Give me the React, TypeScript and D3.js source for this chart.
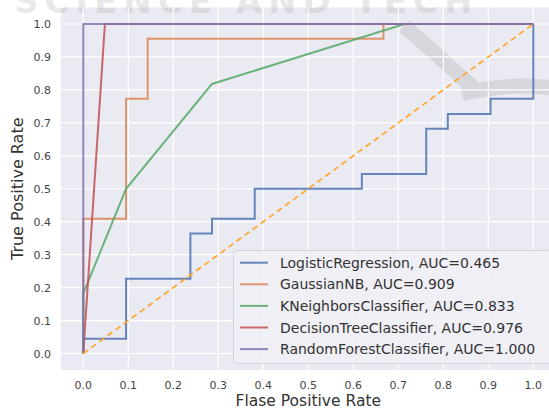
import React, { useEffect, useRef } from 'react';
import * as d3 from 'd3';

const models = [
  'LogisticRegression, AUC=0.465',
  'GaussianNB, AUC=0.909',
  'KNeighborsClassifier, AUC=0.833',
  'DecisionTreeClassifier, AUC=0.976',
  'RandomForestClassifier, AUC=1.000',
];
const colors = ['#4C72B0', '#DD8452', '#55A868', '#C44E52', '#8172B3'];

const lrFpr = [0, 0, 0.095, 0.095, 0.238, 0.238, 0.286, 0.286, 0.381, 0.381, 0.619, 0.619, 0.762, 0.762, 0.81, 0.81, 0.905, 0.905, 1, 1];
const lrTpr = [0, 0.045, 0.045, 0.227, 0.227, 0.364, 0.364, 0.409, 0.409, 0.5, 0.5, 0.545, 0.545, 0.682, 0.682, 0.727, 0.727, 0.773, 0.773, 1];
const nbFpr = [0, 0, 0.095, 0.095, 0.143, 0.143, 0.667, 0.667, 1];
const nbTpr = [0, 0.409, 0.409, 0.773, 0.773, 0.955, 0.955, 1, 1];
const knnFpr = [0, 0, 0.095, 0.286, 0.714, 1];
const knnTpr = [0, 0.182, 0.5, 0.818, 1, 1];
const dtFpr = [0, 0.048, 1];
const dtTpr = [0, 1, 1];
const rfFpr = [0, 0, 1];
const rfTpr = [0, 1, 1];

const ticks = [0, 0.1, 0.2, 0.3, 0.4, 0.5, 0.6, 0.7, 0.8, 0.9, 1.0];

const App = () => {
  const ref = useRef<SVGSVGElement>(null);

  useEffect(() => {
    const svg = d3.select(ref.current);
    svg.selectAll('*').remove();

    const width = 549;
    const height = 409;
    const font = 'DejaVu Sans, sans-serif';

    const x = d3.scaleLinear().domain([-0.05, 1.05]).range([60.8, 555.8]);
    const y = d3.scaleLinear().domain([-0.05, 1.05]).range([370, 7.5]);

    svg.append('rect').attr('width', width).attr('height', height).attr('fill', '#ffffff');

    // plot background
    svg.append('rect')
      .attr('x', x(-0.05))
      .attr('y', y(1.05))
      .attr('width', x(1.05) - x(-0.05))
      .attr('height', y(-0.05) - y(1.05))
      .attr('fill', '#EAEAF2');

    // faint watermark from the source image
    const wm = svg.append('g');
    wm.append('text')
      .attr('x', 14)
      .attr('y', 13)
      .attr('font-family', font)
      .attr('font-weight', 'bold')
      .attr('font-size', 34)
      .attr('fill', '#9a9a9a')
      .attr('fill-opacity', 0.22)
      .attr('letter-spacing', 6)
      .text('SCIENCE AND TECH');
    wm.append('path')
      .attr('d', 'M404,26 C430,48 455,72 474,88 M462,94 C495,86 525,84 552,88')
      .attr('fill', 'none')
      .attr('stroke', '#a8a8a8')
      .attr('stroke-width', 15)
      .attr('stroke-opacity', 0.3);

    // grid
    const grid = svg.append('g');
    ticks.forEach(t => {
      grid.append('line')
        .attr('x1', x(t)).attr('x2', x(t))
        .attr('y1', y(-0.05)).attr('y2', y(1.05))
        .attr('stroke', '#ffffff').attr('stroke-width', 1.2);
      grid.append('line')
        .attr('x1', x(-0.05)).attr('x2', x(1.05))
        .attr('y1', y(t)).attr('y2', y(t))
        .attr('stroke', '#ffffff').attr('stroke-width', 1.2);
    });

    // tick labels
    ticks.forEach(t => {
      svg.append('text')
        .attr('x', x(t))
        .attr('y', 389)
        .attr('text-anchor', 'middle')
        .attr('font-family', font)
        .attr('font-size', 11)
        .attr('fill', '#444444')
        .text(t.toFixed(1));
      svg.append('text')
        .attr('x', 51)
        .attr('y', y(t) + 4)
        .attr('text-anchor', 'end')
        .attr('font-family', font)
        .attr('font-size', 11)
        .attr('fill', '#444444')
        .text(t.toFixed(1));
    });

    // axis titles
    svg.append('text')
      .attr('x', (x(-0.05) + x(1.05)) / 2)
      .attr('y', 406)
      .attr('text-anchor', 'middle')
      .attr('font-family', font)
      .attr('font-size', 15.5)
      .attr('fill', '#333333')
      .text('Flase Positive Rate');

    svg.append('text')
      .attr('transform', `translate(23, ${(y(-0.05) + y(1.05)) / 2}) rotate(-90)`)
      .attr('text-anchor', 'middle')
      .attr('font-family', font)
      .attr('font-size', 16)
      .attr('fill', '#333333')
      .text('True Positive Rate');

    // curves
    svg.append('clipPath').attr('id', 'plot-clip')
      .append('rect')
      .attr('x', x(-0.05)).attr('y', y(1.05))
      .attr('width', x(1.05) - x(-0.05))
      .attr('height', y(-0.05) - y(1.05));

    const curves = [
      [lrFpr, lrTpr],
      [nbFpr, nbTpr],
      [knnFpr, knnTpr],
      [dtFpr, dtTpr],
      [rfFpr, rfTpr],
    ];

    const line = d3.line<[number, number]>()
      .x(d => x(d[0]))
      .y(d => y(d[1]));

    const plot = svg.append('g').attr('clip-path', 'url(#plot-clip)');

    curves.forEach(([fpr, tpr], i) => {
      const pts = fpr.map((f, j) => [f, tpr[j]] as [number, number]);
      plot.append('path')
        .datum(pts)
        .attr('d', line)
        .attr('fill', 'none')
        .attr('stroke', colors[i])
        .attr('stroke-width', 2)
        .attr('stroke-opacity', 0.85);
    });

    // chance line
    plot.append('path')
      .datum([[0, 0], [1, 1]] as [number, number][])
      .attr('d', line)
      .attr('fill', 'none')
      .attr('stroke', '#FFA62B')
      .attr('stroke-width', 1.7)
      .attr('stroke-dasharray', '6,4');

    // legend
    const legend = svg.append('g');
    legend.append('rect')
      .attr('x', 233.5)
      .attr('y', 250.5)
      .attr('width', 318)
      .attr('height', 113)
      .attr('rx', 3)
      .attr('fill', '#EFEFF5')
      .attr('fill-opacity', 0.9)
      .attr('stroke', '#d2d2d8');

    models.forEach((m, i) => {
      const cy = 262.7 + i * 21.6;
      legend.append('line')
        .attr('x1', 240).attr('x2', 268)
        .attr('y1', cy).attr('y2', cy)
        .attr('stroke', colors[i])
        .attr('stroke-width', 2)
        .attr('stroke-opacity', 0.85);
      legend.append('text')
        .attr('x', 280)
        .attr('y', cy + 5)
        .attr('font-family', font)
        .attr('font-size', 14)
        .attr('fill', '#333333')
        .text(m);
    });
  }, []);

  return (
    <svg
      ref={ref}
      width={549}
      height={409}
      style={{ position: 'absolute', left: 0, top: 0 }}
    />
  );
};

export default App;
